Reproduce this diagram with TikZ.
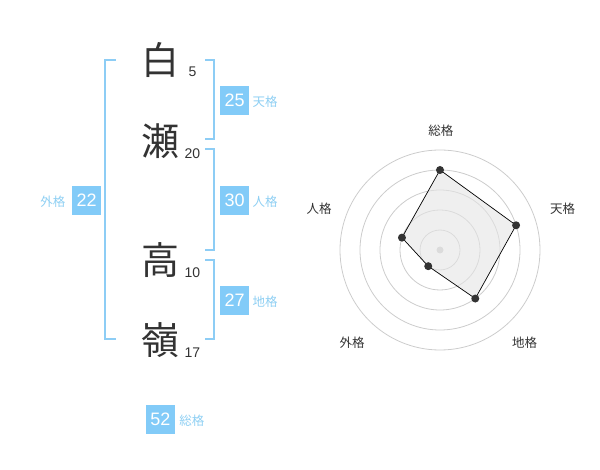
\documentclass[tikz,border=0pt]{standalone}
\usepackage{fontspec}
\setmainfont{Liberation Sans}
\newfontfamily\jpfont{Noto Sans CJK JP}
\usetikzlibrary{positioning}
\definecolor{skyline}{HTML}{8DCDF5}
\definecolor{skybox}{HTML}{82CBF8}
\definecolor{skytext}{HTML}{8ECFF3}
\definecolor{ink}{HTML}{333333}
\tikzstyle{kanji} = [inner sep=0pt, text=ink, font=\jpfont\fontsize{38}{38}\selectfont]
\tikzstyle{strokes} = [inner sep=0pt, text=ink, font=\fontsize{14}{14}\selectfont]
\tikzstyle{score} = [rectangle, fill=skybox, text=white, inner sep=0pt,
minimum size=29pt, font=\fontsize{18}{18}\selectfont]
\tikzstyle{caption} = [inner sep=0pt, text=skytext, font=\jpfont\fontsize{12.5}{12.5}\selectfont]
\tikzstyle{frame} = [draw=skyline, line width=2pt]
\tikzstyle{ring} = [draw=black!20, line width=0.8pt]
\tikzstyle{axis} = [inner sep=0pt, text=ink, font=\jpfont\fontsize{12.5}{12.5}\selectfont]
\tikzstyle{vertex} = [circle, fill=ink, inner sep=0pt, minimum size=8pt]
\tikzstyle{hub} = [circle, fill=black!20, inner sep=0pt, minimum size=7pt]
\newcommand{\bracket}[3][10]{ %
  % Bracket from #2 down to #3, ticks #1 long.
  \draw[frame] (#2) ++(#1,0) -- (#2) -- (#3) -- ++(#1,0);
}

\begin{document}
\begin{tikzpicture}[x=1pt, y=1pt]
  \useasboundingbox (0,0) rectangle (600,-470);

  \node[kanji] (k1) at (160,-60) {白};
  \node[kanji] (k2) at (160,-141) {瀬};
  \node[kanji] (k3) at (160,-260) {高};
  \node[kanji] (k4) at (160,-340) {嶺};
  \node[strokes] (n1) at (192.5,-72) {5};
  \node[strokes] (n2) at (192.5,-153.3) {20};
  \node[strokes] (n3) at (192.5,-273) {10};
  \node[strokes] (n4) at (192.5,-353) {17};

  \coordinate (gai-top) at (105,-60);
  \coordinate (gai-bot) at (105,-339.3);
  \coordinate (ten-top) at (214.3,-60);
  \coordinate (ten-bot) at (214.3,-139.3);
  \coordinate (jin-top) at (214.3,-149.3);
  \coordinate (jin-bot) at (214.3,-250);
  \coordinate (chi-top) at (214.3,-260);
  \coordinate (chi-bot) at (214.3,-339.3);
  \bracket[10.7]{gai-top}{gai-bot}
  \bracket[-9]{ten-top}{ten-bot}
  \bracket[-9]{jin-top}{jin-bot}
  \bracket[-9]{chi-top}{chi-bot}

  \node[score] (s-ten) at (234.7,-100.3) {25};
  \node[caption, right=3pt of s-ten, yshift=-1.5pt] (c-ten) {天格};
  \node[score] (s-jin) at (234.7,-200.3) {30};
  \node[caption, right=3pt of s-jin, yshift=-1.5pt] (c-jin) {人格};
  \node[score] (s-chi) at (234.7,-300.3) {27};
  \node[caption, right=3pt of s-chi, yshift=-1.5pt] (c-chi) {地格};
  \node[score] (s-gai) at (86.7,-200.3) {22};
  \node[caption, left=6.5pt of s-gai, yshift=-1.5pt] (c-gai) {外格};
  \node[score] (s-sou) at (160.5,-419.3) {52};
  \node[caption, right=4pt of s-sou, yshift=-1.5pt] (c-sou) {総格};

  % radar chart
  \begin{scope}[shift={(440,-250)}]
    \foreach \r in {20,40,...,100}
      \draw[ring] (0,0) circle (\r);
    \node[hub] (hub) at (0,0) {};
    \coordinate (p-sou) at (90:80);
    \coordinate (p-ten) at (18:80);
    \coordinate (p-chi) at (-54:60);
    \coordinate (p-gai) at (-126:20);
    \coordinate (p-jin) at (162:40);
    \filldraw[fill=black!10, fill opacity=0.6, draw=black, line width=0.7pt]
      (p-sou) -- (p-ten) -- (p-chi) -- (p-gai) -- (p-jin) -- cycle;
    \foreach \n in {sou,ten,chi,gai,jin}
      \node[vertex] (v-\n) at (p-\n) {};
    \node[axis] (a-sou) at (0.8,119.5) {総格};
    \node[axis] (a-ten) at (122.5,41) {天格};
    \node[axis] (a-jin) at (-121,41) {人格};
    \node[axis] (a-gai) at (-88,-92.5) {外格};
    \node[axis] (a-chi) at (84.5,-92.5) {地格};
  \end{scope}
\end{tikzpicture}
\end{document}
